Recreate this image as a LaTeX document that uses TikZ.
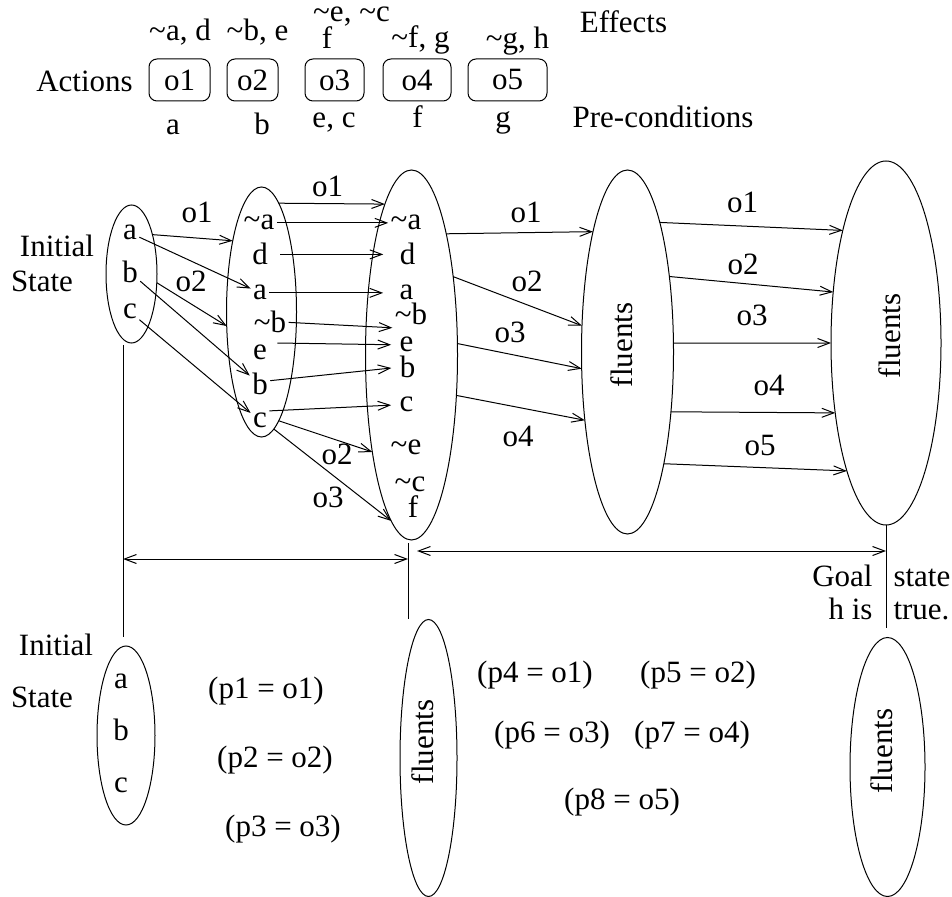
\documentclass[tikz,border=0pt]{standalone}
\usepackage{fontspec}
\setmainfont{Liberation Serif}
\usetikzlibrary{arrows.meta,shapes.geometric}

\newcommand{\notf}{\textasciitilde}

\begin{document}
\begin{tikzpicture}[x=0.5pt,y=-0.5pt,line width=0.5pt,font=\rmfamily\fontsize{15.5}{18}\selectfont,
  >={Straight Barb[length=6pt,width=4.5pt]},
  txt/.style={inner sep=0pt,anchor=base},
  lt/.style={inner sep=1pt,anchor=base},
  st/.style={draw,ellipse,inner sep=0pt,outer sep=0pt},
  act/.style={draw,rounded corners=4pt,inner sep=0pt,minimum height=21pt}]
\useasboundingbox (0,0) rectangle (952,897);

\node[txt] (actions) at (84.5,92) {Actions};
\foreach \n/\x/\w in {1/179.5/30.5,2/252.5/25.5,3/334.5/29.5,4/417/34,5/507.5/39.5}
  \node[act,minimum width=\w pt] (o\n) at (\x,80) {o\n};
\node[txt] (eff1) at (180,41) {\notf a, d};
\node[txt] (eff2) at (257.5,41) {\notf b, e};
\node[txt] (eff3) at (351.5,22) {\notf e, \notf c};
\node[txt] (eff3b) at (327,49) {f};
\node[txt] (eff4) at (420.5,48) {\notf f, g};
\node[txt] (eff5) at (517.5,49) {\notf g, h};
\node[txt] (effects) at (623.5,33) {Effects};
\node[txt] (pre1) at (173,135) {a};
\node[txt] (pre2) at (262,135) {b};
\node[txt] (pre3) at (334,128) {e, c};
\node[txt] (pre4) at (417.5,128) {f};
\node[txt] (pre5) at (503,128) {g};
\node[txt] (precond) at (663,128) {Pre-conditions};

\node[txt] (init) at (57,257) {Initial};
\node[txt] (state) at (42,292) {State};
\node[st,minimum width=25.5pt,minimum height=69pt] (st0) at (131.5,274) {};
\node[st,minimum width=35pt,minimum height=125pt] (st1) at (261.5,312) {};
\node[st,minimum width=46pt,minimum height=185pt] (st2) at (411.5,355) {};
\node[st,minimum width=46pt,minimum height=182pt] (fl1) at (627.5,352) {};
\node[st,minimum width=55pt,minimum height=182pt] (fl2) at (886,343) {};
\node[rotate=90] (flt1) at (622,345) {fluents};
\node[rotate=90] (flt2) at (890,336) {fluents};

\foreach \l/\y in {a/240,b/283,c/319} \node[lt] (\l0) at (130,\y) {\l};
\node[lt] (na1) at (259,230) {\notf a};
\node[lt] (d1) at (260,265) {d};
\node[lt] (a1) at (260,300) {a};
\node[lt] (nb1) at (270,333) {\notf b};
\node[lt] (e1) at (260,360) {e};
\node[lt] (b1) at (260,395) {b};
\node[lt] (c1) at (260,428) {c};
\node[lt] (na2) at (406,230) {\notf a};
\node[lt] (d2) at (407.5,265) {d};
\node[lt] (a2) at (406.5,300) {a};
\node[lt] (nb2) at (411,325) {\notf b};
\node[lt] (e2) at (406.5,352) {e};
\node[lt] (b2) at (407.5,378) {b};
\node[lt] (c2) at (406.5,412) {c};
\node[lt] (ne2) at (406,455) {\notf e};
\node[lt] (nc2) at (410,492) {\notf c};
\node[lt] (f2) at (413,517) {f};

\draw[->] (st0.62) -- (st1.112);
\node[txt] (l01) at (197,223) {o1};
\draw[->] (a0) -- (a1);
\draw[->] (st0.-19) -- (st1.202);
\node[txt] (l02) at (191,292) {o2};
\draw[->] (b0) -- (b1);
\draw[->] (c0) -- (c1);

\draw[->] (st1.81.5) -- (st2.100);
\node[txt] (l11) at (327.5,197) {o1};
\draw[->] (na1) -- (na2);
\draw[->,shorten <=5pt,shorten >=7pt] (d1) -- (d2);
\draw[->,shorten >=7pt] (a1) -- (a2);
\draw[->] (nb1.east) -- (nb2.south west);
\draw[->,shorten <=4pt,shorten >=3pt] (e1.north east) -- (e2.west);
\draw[->,shorten >=3pt] (b1.20) -- (b2.west);
\draw[->,shorten >=3pt] (c1.north east) -- (c2.west);
\draw[->] (st1.-81) -- (st2.-112.7);
\node[txt] (l12) at (337,465) {o2};
\draw[->] (st1.-84.5) -- (st2.-97.3);
\node[txt] (l13) at (328,508) {o3};

\foreach \s/\t/\x/\y/\o in {74.5/106/526/223/1,62.6/150.3/527/292/2,14.7/200.4/510/343/3,-42.4/238.3/518/447/4} {
  \draw[->] (st2.\s) -- (fl1.\t);
  \node[txt] (l2\o) at (\x,\y) {o\o};
}
\foreach \s/\t/\x/\y/\o in {76.1/111.2/742.5/213/1,61.6/136/743/275/2,11.1/180/752/326/3,-54.6/234/769/396/4,-72/253.5/760/456/5} {
  \draw[->] (fl1.\s) -- (fl2.\t);
  \node[txt] (l3\o) at (\x,\y) {o\o};
}

\coordinate (t0) at (123,345);
\coordinate (u0) at (123,637);
\coordinate (t1) at (408,543);
\coordinate (u1) at (408,619);
\coordinate (u2) at (886,628);
\draw (t0) -- (u0);
\draw (t1) -- (u1);
\draw (fl2.south) -- (u2);
\coordinate (ar0) at (123,559);
\coordinate (ar1) at (408,559);
\coordinate (ar2) at (417,551);
\coordinate (ar3) at (886,551);
\draw[<->] (ar0) -- (ar1);
\draw[<->] (ar2) -- (ar3);
\node[txt,anchor=base east] (goal) at (873,586) {Goal};
\node[txt,anchor=base east] (his) at (873,619) {h is};
\node[txt,anchor=base west] (gstate) at (893,586) {state};
\node[txt,anchor=base west] (gtrue) at (893,619) {true.};

\node[txt] (init2) at (56,655) {Initial};
\node[txt] (state2) at (42,707) {State};
\node[st,minimum width=29pt,minimum height=89.5pt] (sb0) at (126,735.5) {};
\foreach \l/\y in {a/688,b/740,c/792} \node[lt] (\l3) at (121,\y) {\l};
\node[st,minimum width=28.5pt,minimum height=138.5pt] (sb1) at (428.5,758) {};
\node[rotate=90] (flt3) at (423,742) {fluents};
\node[st,minimum width=37.5pt,minimum height=129.5pt] (sb2) at (887.5,767) {};
\node[rotate=90] (flt4) at (882,751) {fluents};
\foreach \n/\x/\y/\o in {1/266/698/1,2/275/767/2,3/283/836/3,4/535/682/1,5/698/682/2,6/552/742/3,7/692/742/4,8/622/809/5}
  \node[txt] (eq\n) at (\x,\y) {(p\n{} = o\o)};
\end{tikzpicture}
\end{document}
